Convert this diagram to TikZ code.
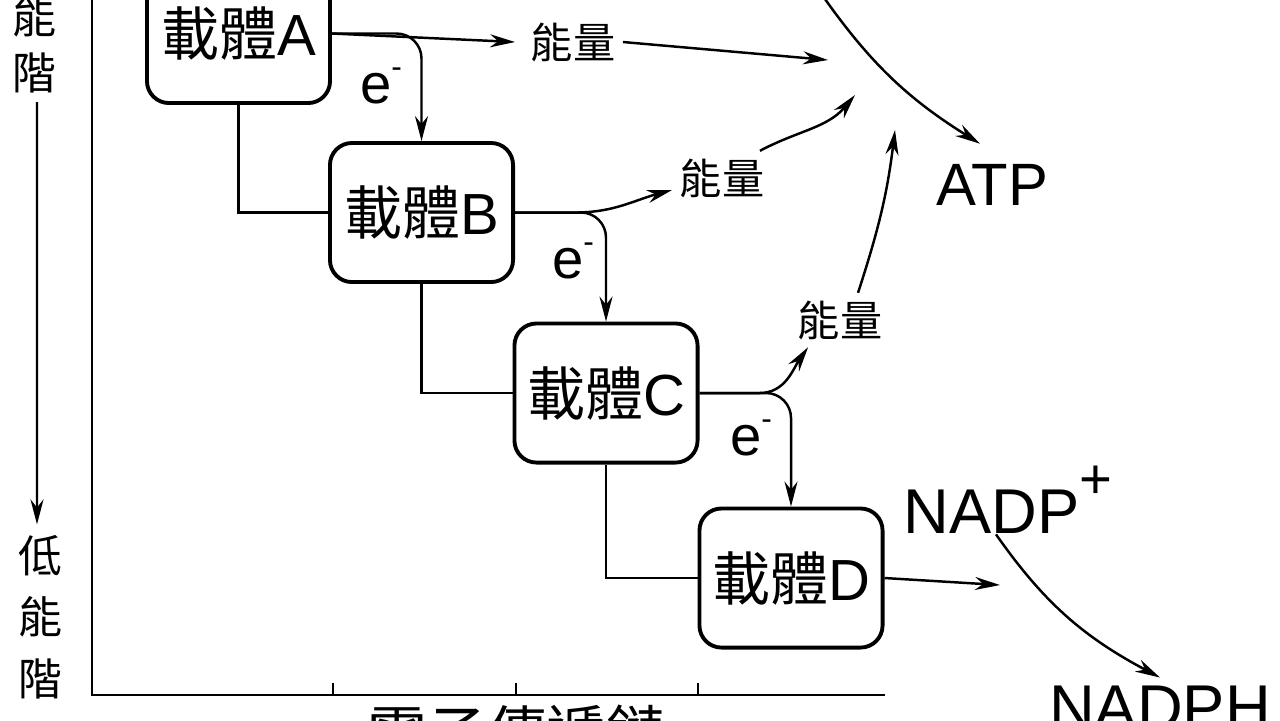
\documentclass[tikz,border=0pt]{standalone}
\usepackage{fontspec}
\setmainfont{Liberation Sans}
\newfontfamily\cjk{Noto Sans CJK TC}
\usetikzlibrary{arrows.meta}

\tikzset{
  carrier/.style={draw, line width=1.1pt, rounded corners=0.22cm, minimum width=1.83cm,
    minimum height=1.39cm, inner sep=0pt, font=\fontsize{16.5}{18}\selectfont},
  flow/.style={line width=0.7pt, -{Stealth[length=0.25cm,width=0.13cm]}},
  link/.style={line width=0.7pt},
  energy/.style={font=\cjk\fontsize{12}{14}\selectfont, inner sep=2pt},
  elec/.style={font=\fontsize{16}{18}\selectfont, inner sep=0pt},
  chem/.style={font=\fontsize{17}{20}\selectfont, inner sep=0pt},
  level/.style={font=\cjk\fontsize{12.5}{14}\selectfont, align=center, inner sep=0pt},
}
\newcommand{\elec}{e\raisebox{0.45em}{\fontsize{9}{9}\selectfont -}}

\begin{document}
\begin{tikzpicture}[x=0.01cm,y=-0.01cm]
    \useasboundingbox (0,0) rectangle (1280,720);
    % axes
    \draw[link] (92,-10) -- (92,695) -- (885,695);
    \foreach \tx in {333,516,698}
        \draw (\tx,695) -- (\tx,683);
    \node[font=\cjk\fontsize{17}{20}\selectfont] (chain) at (517,733) {電子傳遞鏈};
    % energy levels
    \node[level, font=\cjk\fontsize{12.5}{16}\selectfont] (hi) at (34,45) {能\\階};
    \node[level, font=\cjk\fontsize{12.5}{17.5}\selectfont] (lo) at (40,617) {低\\能\\階};
    \draw[flow] (hi.south) ++(3,8) -- ([xshift=-0.03cm,yshift=0.1cm]lo.north);
    % carriers
    \node[carrier] (carA) at (238.5,33.5) {{\cjk 載體}A};
    \node[carrier] (carB) at (421.5,212.5) {{\cjk 載體}B};
    \node[carrier] (carC) at (606,393) {{\cjk 載體}C};
    \node[carrier] (carD) at (791,578) {{\cjk 載體}D};
    \draw[link] (carA.south) |- (carB.west);
    \draw[link] (carB.south) |- (carC.west);
    \draw[link] (carC.south) |- (carD.west);
    % electrons
    \draw[flow, rounded corners=0.25cm] (carA.east) -| (carB.north);
    \draw[flow, rounded corners=0.25cm] (carB.east) -| (carC.north);
    \draw[flow, rounded corners=0.25cm] (carC.east) -| (carD.north);
    \node[elec] (eA) at (381,86) {\elec};
    \node[elec] (eB) at (573,261) {\elec};
    \node[elec] (eC) at (751,438) {\elec};
    % energy
    \node[energy] (enA) at (573,42) {能量};
    \node[energy] (enB) at (722,178) {能量};
    \node[energy] (enC) at (840,320) {能量};
    \draw[flow] (carA.east) -- ([xshift=-0.08cm]enA.west);
    \draw[flow] (carB.east) -- ++(60,0) to[out=0,in=195] ([yshift=-0.12cm]enB.west);
    \draw[flow] (carC.east) -- ++(60,0) to[out=0,in=235] ([xshift=0.18cm]enC.south west);
    \coordinate (toA) at (828,60);
    \coordinate (toB) at (855,95);
    \coordinate (toC) at (895,130);
    \draw[flow] (enA.east) -- (toA);
    \draw[flow] ([xshift=-0.12cm]enB.north east) to[out=28,in=-130] (toB);
    \draw[flow] ([xshift=0.18cm]enC.north) to[out=72,in=-97] (toC);
    % products
    \node[chem] (atp) at (992,185) {ATP};
    \coordinate (adp) at (820,-8);
    \draw[flow] (adp) to[out=-55,in=148] ([xshift=-0.12cm,yshift=0.2cm]atp.north);
    \node[chem, font=\fontsize{18}{20}\selectfont] (nadp) at (1008,500)
        {NADP\raisebox{0.55em}{\fontsize{16}{16}\selectfont +}};
    \node[chem, font=\fontsize{18}{20}\selectfont] (nadph) at (1160,708) {NADPH};
    \coordinate (outD) at (1000,585);
    \draw[flow] (carD.east) -- (outD);
    \draw[flow] ([xshift=-0.12cm]nadp.south) to[out=-55,in=152] ([yshift=0.08cm]nadph.north);
\end{tikzpicture}
\end{document}
